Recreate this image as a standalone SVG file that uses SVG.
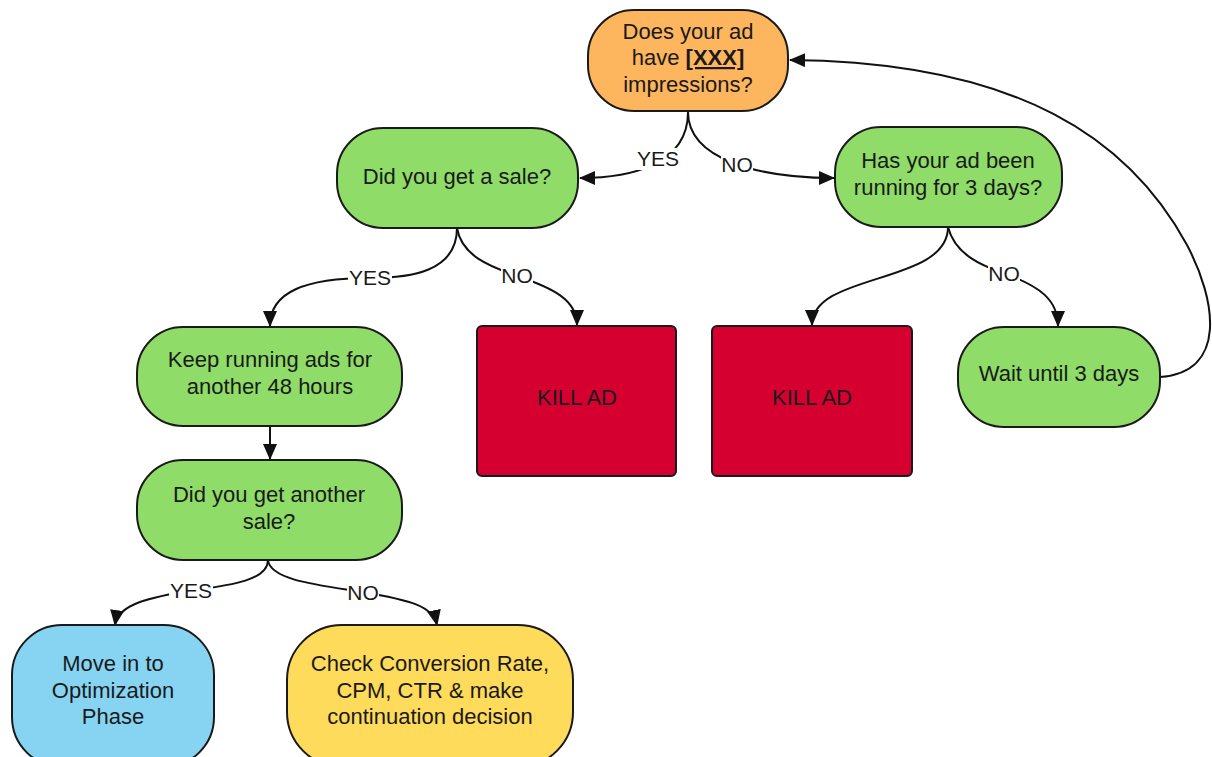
<svg xmlns="http://www.w3.org/2000/svg" width="1212" height="757" viewBox="0 0 1212 757">
<defs>
<marker id="arr" markerUnits="userSpaceOnUse" markerWidth="16" markerHeight="14" refX="15" refY="7" orient="auto">
<path d="M0,0 L16,7 L0,14 Z" fill="#111"/>
</marker>
<style>
.n{stroke:#1a1a1a;stroke-width:2}
.g{fill:#8fdc68}
.o{fill:#fdb55e}
.r{fill:#d50030}
.b{fill:#86d4f2}
.y{fill:#fedb5b}
text{font-family:"Liberation Sans",Arial,sans-serif;font-size:22px;fill:#1a1a1a;text-anchor:middle}
.c{fill:none;stroke:#111;stroke-width:2;marker-end:url(#arr)}
.l{font-size:21px}
.lb{fill:#fff}
</style>
</defs>
<rect width="1212" height="757" fill="#fff"/>
<g id="connectors">
<path class="c" d="M688,112 C688,165 630,178 580,178"/>
<path class="c" d="M688,112 C688,160 760,178 834,178"/>
<path class="c" d="M457,228 C457,272 410,278 370,278 C305,278 270,292 270,326"/>
<path class="c" d="M457,228 C462,258 495,268 517,276 C553,288 577,300 577,325"/>
<path class="c" d="M948,227 C948,285 812,272 812,325"/>
<path class="c" d="M948,227 C955,255 983,266 1003,273 C1040,286 1058,300 1058,326"/>
<path class="c" d="M1160,377 C1228,372 1216,300 1187,245 C1130,140 1020,62 790,60"/>
<path class="c" d="M270,426 L270,459"/>
<path class="c" d="M268,560 C268,580 232,585 195,590 C150,597 118,604 115,625"/>
<path class="c" d="M268,560 C270,580 318,585 362,592 C410,600 433,606 437,625"/>
<rect class="lb" x="636" y="148" width="44" height="22"/>
<text class="l" x="658" y="166">YES</text>
<rect class="lb" x="721" y="154" width="32" height="22"/>
<text class="l" x="737" y="172">NO</text>
<rect class="lb" x="348" y="267" width="44" height="22"/>
<text class="l" x="370" y="285">YES</text>
<rect class="lb" x="501" y="265" width="32" height="22"/>
<text class="l" x="517" y="283">NO</text>
<rect class="lb" x="988" y="263" width="32" height="22"/>
<text class="l" x="1004" y="281">NO</text>
<rect class="lb" x="169" y="580" width="44" height="22"/>
<text class="l" x="191" y="598">YES</text>
<rect class="lb" x="347" y="582" width="32" height="22"/>
<text class="l" x="363" y="600">NO</text>
</g>
<g id="n1"><rect class="n o" x="588" y="10" width="200" height="101" rx="46"/>
<text x="688" y="39">Does your ad</text>
<text x="688" y="65">have <tspan font-weight="bold" text-decoration="underline">[XXX]</tspan></text>
<text x="688" y="92">impressions?</text></g>
<g id="n2"><rect class="n g" x="337" y="128" width="241" height="100" rx="46"/>
<text x="457" y="184">Did you get a sale?</text></g>
<g id="n3"><rect class="n g" x="835" y="127" width="227" height="100" rx="46"/>
<text x="948" y="168">Has your ad been</text>
<text x="948" y="195">running for 3 days?</text></g>
<g id="n4"><rect class="n r" x="477" y="326" width="199" height="150" rx="5"/>
<text x="577" y="405">KILL AD</text></g>
<g id="n5"><rect class="n r" x="712" y="326" width="200" height="150" rx="5"/>
<text x="812" y="405">KILL AD</text></g>
<g id="n6"><rect class="n g" x="958" y="327" width="202" height="100" rx="46"/>
<text x="1059" y="381">Wait until 3 days</text></g>
<g id="n7"><rect class="n g" x="137" y="327" width="265" height="99" rx="46"/>
<text x="270" y="367">Keep running ads for</text>
<text x="270" y="394">another 48 hours</text></g>
<g id="n8"><rect class="n g" x="137" y="460" width="265" height="100" rx="46"/>
<text x="269" y="502">Did you get another</text>
<text x="269" y="529">sale?</text></g>
<g id="n9"><rect class="n b" x="12" y="625" width="202" height="142" rx="50"/>
<text x="113" y="671">Move in to</text>
<text x="113" y="698">Optimization</text>
<text x="113" y="724">Phase</text></g>
<g id="n10"><rect class="n y" x="287" y="625" width="286" height="142" rx="55"/>
<text x="430" y="671">Check Conversion Rate,</text>
<text x="430" y="698">CPM, CTR &amp; make</text>
<text x="430" y="724">continuation decision</text></g>
</svg>
